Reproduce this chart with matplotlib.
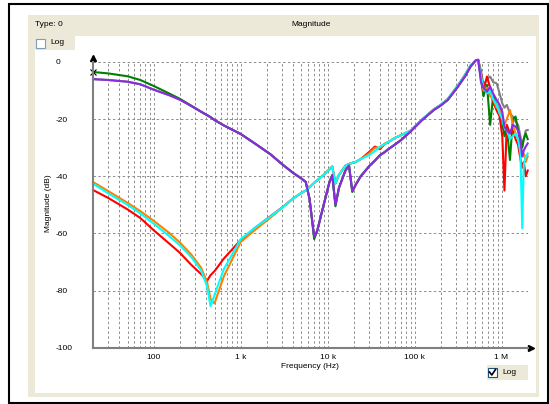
import matplotlib.pyplot as plt
from matplotlib.patches import Rectangle
from matplotlib.lines import Line2D
from matplotlib.ticker import LogLocator, FixedLocator, NullFormatter

plt.rcParams['font.family'] = ['Liberation Sans', 'DejaVu Sans']

# frequency grid shared by all traces (Hz)
freq = [20, 30, 50, 70, 100, 150, 200, 270, 350, 410, 450, 500, 640, 1000, 1500,
        2200, 3000, 4000, 5000, 5600, 6200, 7000, 7600, 9000, 10500, 11300, 12300,
        13500, 16000, 17600, 19200, 21000, 24000, 30000, 35000, 40000, 45000, 50000,
        60000, 70000, 90000, 120000, 166000, 200000, 240000, 310000, 380000, 440000,
        500000, 540000, 580000, 620000, 680000, 740000, 800000, 880000, 950000,
        1020000, 1080000, 1150000, 1250000, 1350000, 1450000, 1550000, 1650000,
        1730000, 1800000, 1900000, 2000000]

purple = [-6.0, -6.3, -6.9, -7.8, -9.7, -11.6, -13.2, -15.4, -17.4, -18.6, -19.3, -20.3, -22.2, -25.2, -28.8,
          -32.3, -35.8, -38.8, -40.8, -42.0, -48.0, -61.2, -59.0, -50.0, -42.0, -39.6, -50.0,
          -44.0, -38.0, -36.2, -45.2, -43.0, -40.0, -36.5, -34.5, -32.6, -31.6, -30.5,
          -28.8, -27.3, -24.3, -20.5, -16.8, -15.2, -13.3, -8.9, -5.0, -1.6,
          0.5, 0.8, -7.0, -9.0, -10.4, -8.6, -11.0, -13.3, -15.0,
          -17.4, -22.6, -24.0, -25.0, -22.0, -22.6, -24.0, -27.3,
          -33.1, -31.0, -29.6, -28.5]

green = [-3.5, -4.0, -5.0, -6.3, -8.4, -11.0, -12.9, -15.3, -17.4, -18.6, -19.3, -20.3, -22.2, -25.2, -28.8,
         -32.3, -35.8, -38.8, -40.8, -42.0, -48.0, -62.0, -59.0, -50.0, -42.0, -39.6, -50.5,
         -44.0, -38.0, -36.2, -45.5, -43.0, -40.0, -36.5, -34.5, -32.6, -31.6, -30.5,
         -28.8, -27.3, -24.3, -20.5, -16.8, -15.2, -13.3, -8.9, -5.0, -1.6,
         0.3, 0.6, -6.0, -12.0, -8.0, -22.0, -12.0, -15.0, -17.0,
         -21.0, -26.0, -23.0, -34.3, -20.0, -19.1, -24.0, -28.0,
         -30.0, -27.0, -25.0, -27.0]

gray = [-6.0, -6.3, -6.9, -7.8, -9.7, -11.6, -13.2, -15.4, -17.4, -18.6, -19.3, -20.3, -22.2, -25.2, -28.8,
        -32.3, -35.8, -38.8, -40.8, -42.0, -48.0, -61.2, -59.0, -50.0, -42.0, -39.6, -50.0,
        -44.0, -38.0, -36.2, -45.2, -43.0, -40.0, -36.5, -34.5, -32.6, -31.6, -30.5,
        -28.8, -27.3, -24.3, -20.5, -16.8, -15.2, -13.3, -8.9, -5.0, -1.6,
        0.5, 0.8, -3.0, -8.0, -6.0, -5.1, -7.0, -7.5, -11.0,
        -14.5, -16.0, -15.0, -18.0, -19.1, -20.9, -22.0, -26.0,
        -29.6, -27.0, -24.0, -23.8]

red = [-44.8, -47.6, -51.6, -54.6, -58.9, -63.5, -66.8, -71.0, -74.2, -76.6, -74.6, -73.2, -68.8, -62.3, -57.8,
       -54.0, -50.9, -47.8, -45.8, -45.0, -43.8, -42.3, -41.4, -39.5, -37.5, -36.6, -42.5,
       -39.5, -36.3, -35.7, -35.3, -35.0, -34.0, -31.5, -29.6, -30.5, -28.8, -28.0,
       -26.5, -25.6, -24.0, -20.3, -16.6, -15.0, -13.0, -8.5, -4.5, -1.2,
       0.3, 0.5, -4.0, -10.0, -5.1, -9.0, -14.0, -17.0, -19.0,
       -26.0, -45.0, -22.0, -25.0, -24.0, -27.0, -29.0, -34.0,
       -37.0, -35.0, -40.0, -38.0]

orange = [-42.0, -45.2, -49.3, -52.2, -55.6, -59.8, -63.2, -67.4, -72.0, -77.0, -83.0, -84.5, -75.0, -63.0, -58.5,
          -54.5, -51.0, -47.8, -45.8, -45.0, -43.8, -42.3, -41.4, -39.5, -37.5, -36.6, -42.5,
          -39.5, -36.3, -35.7, -35.3, -35.0, -34.0, -32.0, -30.0, -30.0, -28.6, -28.0,
          -26.5, -25.6, -24.0, -20.3, -16.6, -15.0, -13.0, -8.5, -4.5, -1.2,
          0.3, 0.5, -5.0, -10.0, -9.0, -12.0, -13.0, -16.0, -16.2,
          -20.0, -22.0, -20.0, -16.8, -22.0, -25.0, -27.0, -30.0,
          -33.0, -32.0, -35.0, -33.0]

cyan = [-42.6, -46.0, -50.0, -53.0, -56.6, -60.9, -64.2, -68.3, -73.0, -78.5, -85.5, -81.5, -72.5, -62.0, -57.7,
        -54.1, -51.0, -47.8, -45.8, -45.0, -43.8, -42.3, -41.4, -39.5, -37.5, -36.6, -42.5,
        -39.5, -36.3, -35.7, -35.3, -35.0, -34.0, -32.6, -31.2, -29.6, -28.8, -28.0,
        -26.5, -25.6, -24.0, -20.3, -16.6, -15.0, -13.0, -8.5, -4.5, -1.2,
        0.3, 0.5, -5.0, -9.0, -11.0, -10.0, -13.0, -15.0, -18.0,
        -20.0, -23.0, -24.0, -27.0, -26.0, -25.0, -27.0, -32.0,
        -58.2, -36.0, -33.0, -32.0]

y_ticks = [0, -20, -40, -60, -80, -100]
x_ticks = [100, 1000, 10000, 100000, 1000000]
x_labels = ['100', '1 k', '10 k', '100 k', '1 M']

W, H = 549, 404
fig = plt.figure(figsize=(W / 100, H / 100), dpi=100)


def box(x0, y0, x1, y1, **kw):
    fig.patches.append(Rectangle((x0 / W, 1 - y1 / H), (x1 - x0) / W, (y1 - y0) / H,
                                 transform=fig.transFigure, figure=fig, **kw))


def txt(x, y, s, **kw):
    fig.text(x / W, 1 - y / H, s, fontsize=6, color='black', va='center', **kw)


# window chrome
box(8.5, 3.5, 547.5, 402.5, facecolor='white', edgecolor='black', lw=1.5, zorder=-10)
box(28, 15, 538.5, 397, facecolor='#ECE9D8', edgecolor='none', zorder=-9)
box(35, 50, 535.5, 393, facecolor='white', edgecolor='none', zorder=-8)
box(75, 36, 535.5, 50, facecolor='white', edgecolor='none', zorder=-8)
box(36, 39, 44.5, 47.5, facecolor='white', edgecolor='#7f9db9', lw=0.8, zorder=-7)
box(487, 365, 528, 380, facecolor='#ECE9D8', edgecolor='none', zorder=-7)
box(487.5, 368, 497, 377, facecolor='white', edgecolor='#1c5180', lw=0.8, zorder=-6)
fig.add_artist(Line2D([489.5 / W, 491.8 / W, 495.5 / W],
                      [1 - 372 / H, 1 - 375 / H, 1 - 369.5 / H], color='black', lw=1.2))

txt(35, 25, 'Type: 0')
txt(311, 25, 'Magnitude', ha='center')
txt(50, 43, 'Log')
txt(502, 372.5, 'Log')
txt(310, 366, 'Frequency (Hz)', ha='center')
txt(48, 203, 'Magnitude (dB)', ha='center', rotation=90)

ax = fig.add_axes([93 / W, 1 - 347.7 / H, (527.7 - 93) / W, (347.7 - 62) / H])
ax.patch.set_visible(False)
ax.set_xscale('log')
ax.set_xlim(20, 2e6)
ax.set_ylim(-100, 0)

ax.xaxis.set_major_locator(FixedLocator(x_ticks))
ax.set_xticklabels(x_labels)
ax.xaxis.set_minor_locator(LogLocator(base=10, subs=[2, 3, 4, 5, 6, 7, 8, 9], numticks=20))
ax.xaxis.set_minor_formatter(NullFormatter())
ax.set_yticks(y_ticks)
ax.set_yticklabels([str(v) for v in y_ticks], ha='left')
ax.tick_params(axis='both', which='both', length=0, labelsize=6)
ax.tick_params(axis='y', pad=26.6)
ax.tick_params(axis='x', pad=4.5)

ax.grid(True, which='both', axis='x', color='#8c8c8c', lw=0.7, ls=(0, (2.5, 2.5)))
ax.grid(True, which='major', axis='y', color='#8c8c8c', lw=0.7, ls=(0, (2.5, 2.5)))

for s in ['top', 'right']:
    ax.spines[s].set_visible(False)
for s in ['left', 'bottom']:
    ax.spines[s].set_color('#808080')
    ax.spines[s].set_linewidth(1.5)

# axis arrows
ax.plot([0, 0], [1, 1.016], transform=ax.transAxes, color='#808080', lw=1.5, clip_on=False)
ax.plot([1, 1.007], [0, 0], transform=ax.transAxes, color='#808080', lw=1.5, clip_on=False)
ax.plot([0], [1.015], transform=ax.transAxes, marker='^', color='black', ms=4, clip_on=False)
ax.plot([1.007], [0], transform=ax.transAxes, marker='>', color='black', ms=4, clip_on=False)

lw = 1.5
ax.plot(freq, gray, color='#808080', lw=lw, clip_on=False)
ax.plot(freq, green, color='#008000', lw=lw, clip_on=False)
ax.plot(freq, red, color='#ff0000', lw=lw, clip_on=False)
ax.plot(freq, orange, color='#ff8000', lw=lw, clip_on=False)
ax.plot(freq, cyan, color='#00ffff', lw=lw, clip_on=False)
ax.plot(freq, purple, color='#8a2be2', lw=lw, clip_on=False)
ax.plot([freq[0]], [green[0]], marker='x', color='black', ms=4, mew=0.8, clip_on=False)

fig.savefig('out.png', dpi=100)
